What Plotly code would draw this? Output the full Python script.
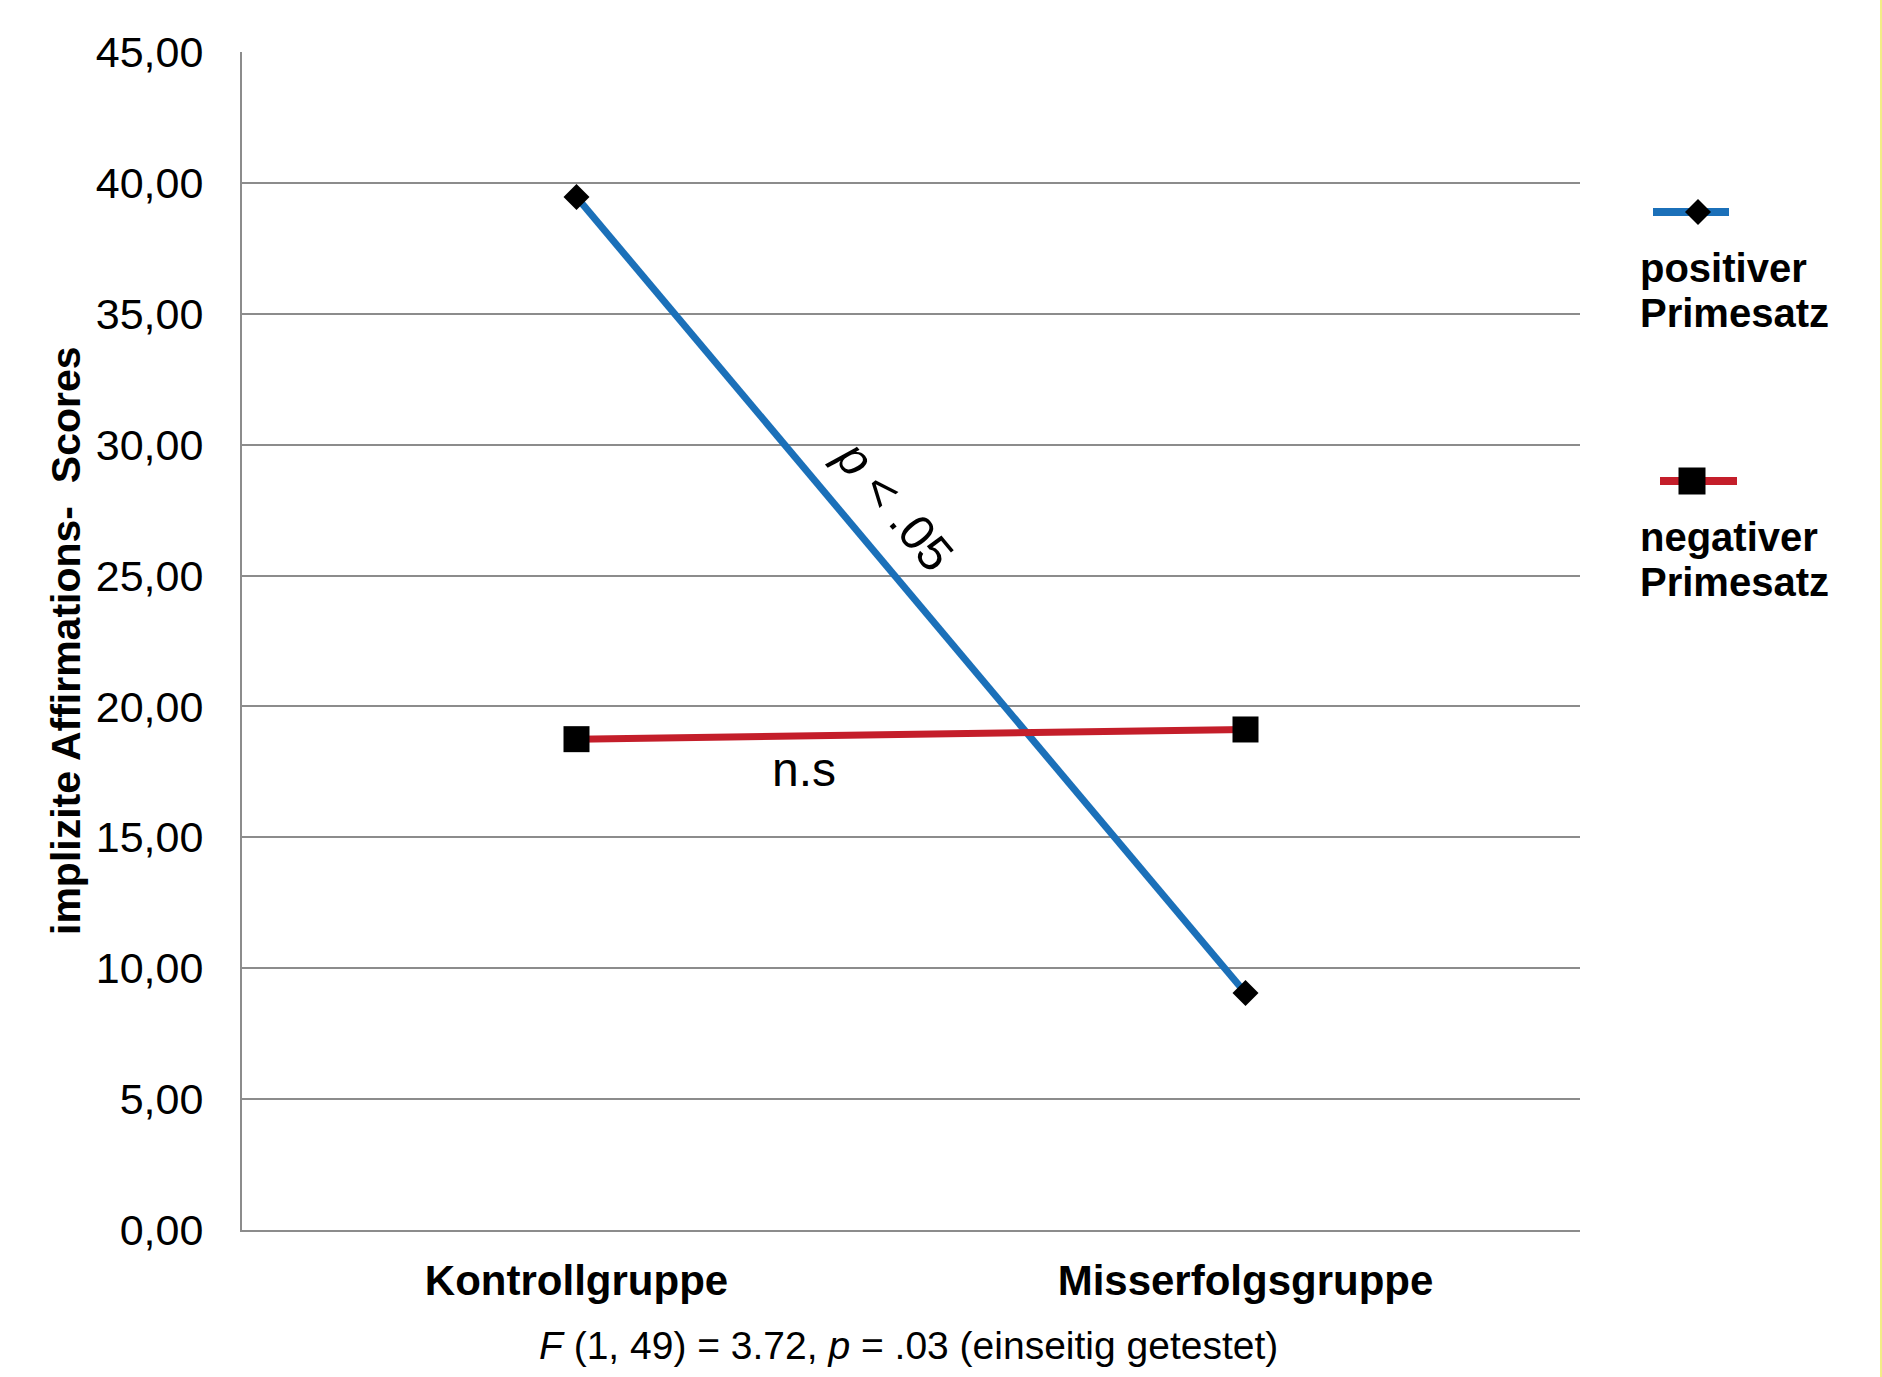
import plotly.graph_objects as go

# ---- data ----
categories = ["Kontrollgruppe", "Misserfolgsgruppe"]
positiver = [39.46, 9.05]
negativer = [18.75, 19.12]
series_names = ["positiver Primesatz", "negativer Primesatz"]
y_ticks = [0, 5, 10, 15, 20, 25, 30, 35, 40, 45]

BLUE = "#1B70B9"
RED = "#C41E2A"
GRID = "#8C8C8C"
FONT = "Liberation Sans, Arial, sans-serif"

W, H = 1882, 1377
L, R, T, B = 242, 2, 52, 147
plot_right = 1580
PW = W - L - R
dom = (plot_right - L) / PW

fig = go.Figure()

fig.add_trace(go.Scatter(
    x=categories, y=positiver, mode="lines+markers", name=series_names[0],
    line=dict(color=BLUE, width=7),
    marker=dict(symbol="diamond", size=20, color="black"),
    showlegend=False, xaxis="x", yaxis="y"))
fig.add_trace(go.Scatter(
    x=categories, y=negativer, mode="lines+markers", name=series_names[1],
    line=dict(color=RED, width=7),
    marker=dict(symbol="square", size=26, color="black"),
    showlegend=False, xaxis="x", yaxis="y"))

# ---- custom legend drawn on an auxiliary pixel-like axis in the right margin ----
leg = [
    dict(x0=1653, x1=1729, xm=1698, y=212, color=BLUE, symbol="diamond", size=20,
         lines=["positiver", "Primesatz"], ty=[268, 313]),
    dict(x0=1660, x1=1737, xm=1692, y=481, color=RED, symbol="square", size=27,
         lines=["negativer", "Primesatz"], ty=[537, 582]),
]
for it in leg:
    fig.add_trace(go.Scatter(x=[it["x0"], it["x1"]], y=[it["y"], it["y"]], mode="lines",
                             line=dict(color=it["color"], width=8), showlegend=False,
                             hoverinfo="skip", xaxis="x2", yaxis="y2"))
    fig.add_trace(go.Scatter(x=[it["xm"]], y=[it["y"]], mode="markers",
                             marker=dict(symbol=it["symbol"], size=it["size"], color="black"),
                             showlegend=False, hoverinfo="skip", xaxis="x2", yaxis="y2"))

annotations = []
for it in leg:
    for txt, ty in zip(it["lines"], it["ty"]):
        annotations.append(dict(x=1638, y=ty, xref="x2", yref="y2", text=txt, showarrow=False,
                                xanchor="left", yanchor="middle",
                                font=dict(family=FONT, size=40, color="black", weight="bold")))

# in-plot annotations
annotations.append(dict(x=0.475, y=27.7, xref="x", yref="y", text="<i>p</i> < .05",
                        showarrow=False, textangle=50, xanchor="center", yanchor="middle",
                        font=dict(family=FONT, size=49, color="black")))
annotations.append(dict(x=0.34, y=17.6, xref="x", yref="y", text="n.s",
                        showarrow=False, font=dict(family=FONT, size=48, color="black")))
# y-axis title
annotations.append(dict(x=(66 - L) / PW, y=0.5, xref="paper", yref="paper",
                        xanchor="center", yanchor="middle",
                        text="implizite Affirmations-  Scores", textangle=-90, showarrow=False,
                        font=dict(family=FONT, size=41, color="black", weight="bold")))
# bottom statistic text
annotations.append(dict(x=(908 - L) / PW, y=(1230 - 1345) / (1230 - 52),
                        xref="paper", yref="paper", xanchor="center",
                        text="<i>F</i> (1, 49) = 3.72, <i>p</i> = .03 (einseitig getestet)",
                        showarrow=False, yanchor="middle",
                        font=dict(family=FONT, size=39, color="black")))

fig.update_layout(
    width=W, height=H,
    margin=dict(l=L, r=R, t=T, b=B, pad=0),
    paper_bgcolor="white", plot_bgcolor="white",
    separators=", ",
    showlegend=False,
    xaxis=dict(domain=[0, dom], type="category", categoryorder="array", categoryarray=categories,
               range=[-0.5, 1.5], showgrid=False, zeroline=False,
               showline=True, linecolor=GRID, linewidth=2, ticks="",
               tickfont=dict(family=FONT, size=42, color="black", weight="bold"),
               ticklabelstandoff=13, anchor="y"),
    yaxis=dict(range=[0, 45], tickvals=y_ticks, tickformat=".2f",
               showgrid=True, gridcolor=GRID, gridwidth=2, zeroline=False,
               showline=True, linecolor=GRID, linewidth=2, ticks="",
               tickfont=dict(family=FONT, size=43, color="black"),
               ticklabelstandoff=28, anchor="x"),
    xaxis2=dict(domain=[dom, 1], range=[plot_right, W - R], visible=False, anchor="y2"),
    yaxis2=dict(domain=[0, 1], range=[1230, 52], visible=False, anchor="x2"),
    annotations=annotations,
    shapes=[dict(type="rect", xref="paper", yref="paper",
                 x0=(1880 - L) / PW, x1=(1883 - L) / PW,
                 y0=(1230 - 1380) / (1230 - 52), y1=(1230 + 5) / (1230 - 52),
                 fillcolor="#F3EE85", line=dict(width=0), layer="above")],
)

fig.write_html("out.html", config={"displayModeBar": False},
               post_script="document.body.style.margin='0';document.body.style.overflow='hidden';")
